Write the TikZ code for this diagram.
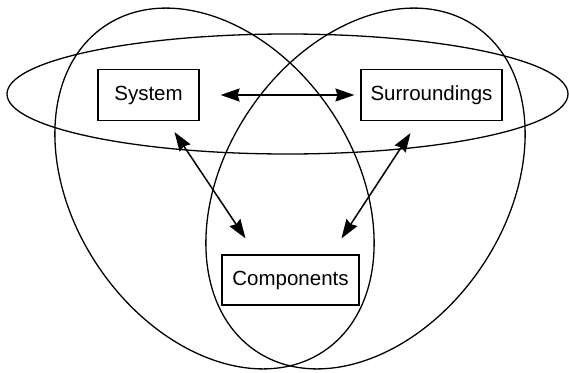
\documentclass[tikz,border=0pt]{standalone}
\usepackage{fontspec}
\setmainfont{Liberation Sans}
\usetikzlibrary{positioning,arrows.meta}

\begin{document}
\begin{tikzpicture}[
    x=1pt, y=1pt,
    every node/.style={font=\fontsize{20.5}{24}\selectfont, inner sep=0pt},
    box/.style={draw, line width=1.2pt, minimum height=51pt},
    ring/.style={draw, line width=1.3pt},
    link/.style={{Stealth[length=19pt,width=13pt,inset=2pt]}-{Stealth[length=19pt,width=13pt,inset=2pt]}, line width=1.5pt}]
  \useasboundingbox (0,0) rectangle (569,-372);
  % the three sets
  \draw[ring] (287.5,-94) ellipse [x radius=280.5, y radius=60];
  \draw[ring, rotate around={-56:(214.5,-188.5)}] (214.5,-188.5) ellipse [x radius=196, y radius=140];
  \draw[ring, rotate around={56:(365.5,-188.5)}] (365.5,-188.5) ellipse [x radius=196, y radius=140];
  % boxes
  \node[box, minimum width=101pt] (sys) at (148.5,-95) {System};
  \node[box, minimum width=141pt] (sur) at (431.5,-95) {Surroundings};
  \node[box, minimum width=137pt, minimum height=50pt] (comp) at (290.5,-280) {Components};
  % interactions
  \draw[link] ([xshift=21pt]sys.east) -- ([xshift=-6pt]sur.west);
  \draw[link] ([xshift=26pt,yshift=-11pt]sys.south) -- ([xshift=-45pt,yshift=16pt]comp.north);
  \draw[link] ([xshift=-21pt,yshift=-12pt]sur.south) -- ([xshift=51pt,yshift=16pt]comp.north);
\end{tikzpicture}
\end{document}
